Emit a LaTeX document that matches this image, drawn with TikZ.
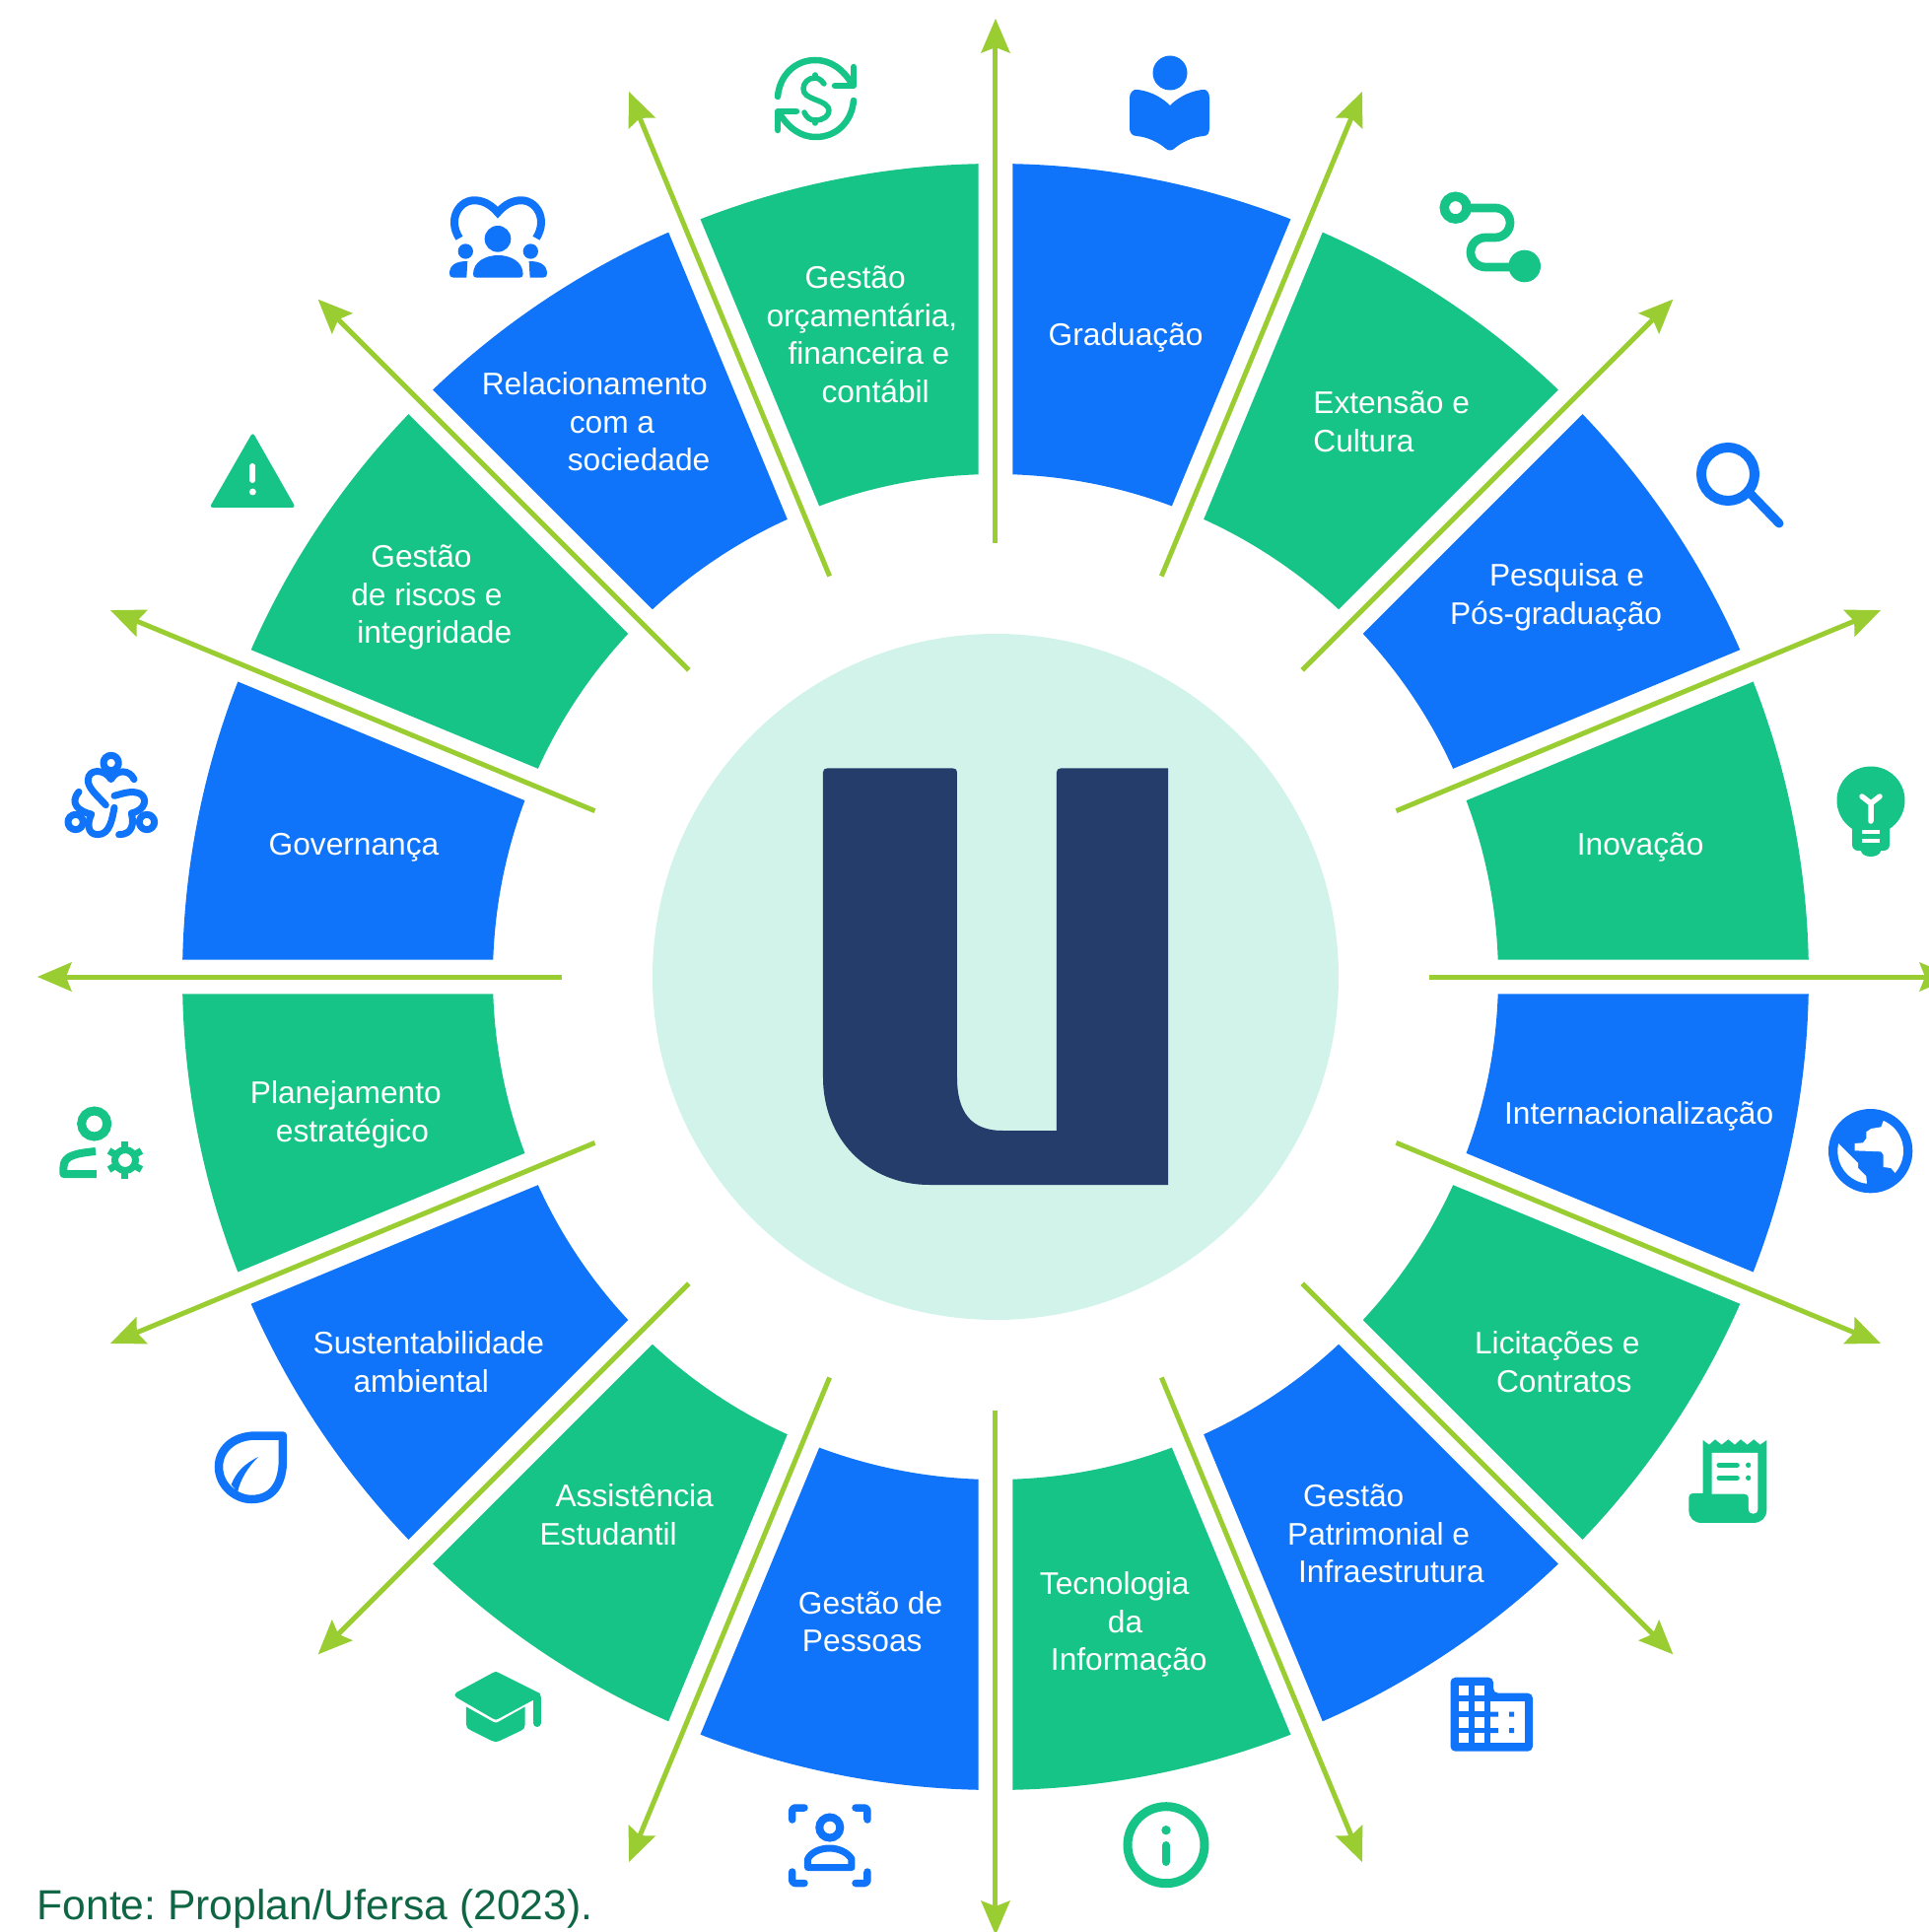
\documentclass[tikz,border=0pt]{standalone}
\usepackage{fontspec}
\setmainfont{Liberation Sans}
\usetikzlibrary{arrows.meta}
\definecolor{bl}{HTML}{1074FB}
\definecolor{gr}{HTML}{17C488}
\definecolor{ar}{HTML}{9ACD32}
\definecolor{hubc}{HTML}{D1F3E9}
\definecolor{nv}{HTML}{253D6B}
\definecolor{ft}{HTML}{0F6645}
\frenchspacing
\tikzset{
 img/.style={shift={(-1010,991)},yscale=-1},
 zm/.style n args={3}{shift={(#1,#2)},scale=#3},
 lab/.style={text=white,font=\fontsize{31.7}{38.5}\selectfont,align=left,anchor=west,inner sep=0pt},
 arrowline/.style={draw=ar,line width=5pt,-{Stealth[length=35pt,width=30pt,inset=6pt,line width=0pt]}},
 st/.style={line cap=round,line join=round,fill=none},
}
\newcommand\wedgeseg[2]{%
 \pgfmathsetmacro\aa{#1}\pgfmathsetmacro\bb{#1+22.5}%
 \fill[#2] (\aa+1.215:825) arc[start angle=\aa+1.215,end angle=\bb-1.215,radius=825] -- (\bb-1.966:510) arc[start angle=\bb-1.966,end angle=\aa+1.966,radius=510] -- cycle;}
\newcommand\lab[4]{\node[lab] (#1) at ({#2*1.2497-1010},{991-#3*1.2497}) {#4};}
\begin{document}
\begin{tikzpicture}[x=1pt,y=1pt]
\useasboundingbox (-1010,-969) rectangle (947,991);
\clip (-1010,-969) rectangle (947,991);
\node[circle,fill=hubc,inner sep=0pt,minimum size=696pt] (hub) at (0,0) {};
\foreach \i in {0,2,...,14} {\wedgeseg{\i*22.5}{gr}}
\foreach \i in {1,3,...,15} {\wedgeseg{\i*22.5}{bl}}
\foreach \i in {0,...,15} {
 \coordinate (s\i) at (\i*22.5:440);
 \coordinate (e\i) at (\i*22.5:972);
 \draw[arrowline] (s\i) -- (e\i);
}
% labels
\lab{orc}{622}{271.5}{\hspace*{39pt}Gestão\\orçamentária,\\\hspace*{22pt}financeira e\\\hspace*{56pt}contábil}
\lab{grad}{851}{274}{Graduação}
\lab{ext}{1066}{342.5}{Extensão e\\Cultura}
\lab{pesq}{1177}{485}{\hspace*{40pt}Pesquisa e\\Pós-graduação}
\lab{inov}{1280}{688}{Inovação}
\lab{inter}{1221}{906}{Internacionalização}
\lab{lic}{1197}{1105.5}{Licitações e\\\hspace*{22pt}Contratos}
\lab{patr}{1045}{1245}{\hspace*{16pt}Gestão\\Patrimonial e\\\hspace*{11pt}Infraestrutura}
\lab{tec}{844}{1319}{Tecnologia\\\hspace*{69pt}da\\\hspace*{11pt}Informação}
\lab{pess}{648}{1316.5}{Gestão de\\\hspace*{4pt}Pessoas}
\lab{assist}{438}{1229.5}{\hspace*{16pt}Assistência\\Estudantil}
\lab{sust}{254}{1105.5}{Sustentabilidade\\\hspace*{41pt}ambiental}
\lab{plan}{203}{905}{Planejamento\\\hspace*{26pt}estratégico}
\lab{gov}{218}{688}{Governança}
\lab{risc}{285}{485}{\hspace*{20pt}Gestão\\de riscos e\\\hspace*{6pt}integridade}
\lab{rel}{391}{342.5}{Relacionamento\\\hspace*{89pt}com a\\\hspace*{87pt}sociedade}
\node[anchor=west,inner sep=0pt,text=ft,font=\fontsize{42.6}{50}\selectfont] (fonte) at (-972.5,-945) {Fonte: Proplan/Ufersa (2023).};
% all remaining drawn in image pixels
\begin{scope}[img]
% U
\fill[nv] (835,783.5) .. controls (835,781) and (836.5,779.5) .. (839,779.5) -- (967,779.5) .. controls (969.5,779.5) and (971,781) .. (971,783.5) -- (971,1093) .. controls (971,1128) and (985,1147) .. (1017,1147) -- (1072,1147) -- (1072,783.5) .. controls (1072,781) and (1073.5,779.5) .. (1076,779.5) -- (1185,779.5) -- (1185,1202) -- (943,1202) .. controls (880,1202) and (835,1155) .. (835,1093) -- cycle;
% dollar
\begin{scope}[st,draw=gr,line width=6.5pt]
\draw (789,98) .. controls (791,76) and (807,61) .. (827,61) .. controls (843,61) and (855,70) .. (865,86);
\draw (866,68) -- (866,87) -- (847,87);
\draw (866,102) .. controls (864,124) and (848,139) .. (828,139) .. controls (812,139) and (800,130) .. (790,114);
\draw (789,132) -- (789,113) -- (808,113);
\draw[line width=5.5pt] (836,85) .. controls (833,81) and (830,79) .. (827,79) .. controls (820,79) and (815,84) .. (815,90) .. controls (815,96) and (820,98) .. (827,101) .. controls (835,104) and (841,107) .. (841,112) .. controls (841,118) and (835,122) .. (827,122) .. controls (822,122) and (818,119) .. (816,114);
\draw[line width=5.5pt] (827,76) -- (827,79) (827,122) -- (827,125);
\end{scope}
% book reader
\fill[bl] (1187,74) circle[radius=17.5];
\fill[bl] (1187,107) .. controls (1176,96) and (1163,92) .. (1154,91) .. controls (1150,90) and (1146,94) .. (1146,99) -- (1146,130) .. controls (1146,135) and (1149,138) .. (1153,138) .. controls (1164,139) and (1175,144) .. (1183,151) .. controls (1185,153) and (1189,153) .. (1191,151) .. controls (1199,144) and (1210,139) .. (1221,138) .. controls (1225,138) and (1227,135) .. (1227,130) -- (1227,99) .. controls (1227,94) and (1224,90) .. (1220,91) .. controls (1211,92) and (1198,96) .. (1187,107) -- cycle;
% route
\draw[gr,line width=8.7pt,rounded corners=15pt] (1477,211) -| (1532,241) -| (1492,271) -- (1547,271);
\draw[gr,line width=9.5pt,fill=white] (1476.7,210.7) circle[radius=11.4];
\fill[gr] (1546.7,270) circle[radius=16.3];
% magnifier
\draw[bl,line width=10pt] (1753,481) circle[radius=27];
\draw[bl,line width=9pt,line cap=round] (1775,500) -- (1805,531);
% bulb
\fill[gr] (1898,812) circle[radius=34.5];
\fill[gr,rounded corners=6pt] (1879,825) rectangle (1917,863);
\fill[gr] (1898,863) ellipse[x radius=10,y radius=6];
\draw[white,line width=5.5pt,line cap=round,line join=round] (1889,808) -- (1898,815) -- (1907,808) (1898,815) -- (1898,833);
\draw[white,line width=4pt] (1889,844) -- (1907,844) (1889,853) -- (1907,853);
% globe
\begin{scope}[zm={1840}{1110}{0.3333}]
\fill[bl] (173,173) circle[radius=128];
\begin{scope}
\clip (173,173) circle[radius=100];
\fill[white] (212,82) -- (205,100) -- (175,105) -- (160,115) -- (160,135) -- (150,148) -- (125,150) -- (125,172) -- (205,175) -- (212,185) -- (212,222) -- (235,225) -- (248,240) -- (300,240) -- (300,60) -- (212,60) -- cycle;
\fill[white] (75,150) -- (135,210) -- (135,225) -- (160,250) -- (162,272) -- (162,300) -- (40,300) -- (40,150) -- cycle;
\end{scope}
\end{scope}
% receipt
\begin{scope}[zm={1640}{1400}{0.3333}]
\fill[gr] (263,183) -- (282,197) -- (300,181) -- (320,197) -- (340,181) -- (360,197) -- (378,181) -- (398,197) -- (418,181) -- (437,197) -- (457,183) -- (457,395) .. controls (457,420) and (440,435) .. (415,435) -- (260,435) .. controls (235,435) and (220,420) .. (220,395) -- (220,360) .. controls (220,350) and (225,345) .. (235,345) -- (263,345) -- cycle;
\fill[white] (290,222) -- (430,222) -- (430,393) .. controls (430,412) and (402,412) .. (402,393) -- (402,360) .. controls (402,352) and (397,347) .. (390,347) -- (290,347) -- cycle;
\draw[gr,line width=5pt,line cap=round] (312,259) -- (367,259) (312,298) -- (367,298);
\fill[gr] (401,259) circle[radius=8] (401,298) circle[radius=8];
\end{scope}
% building
\fill[bl,rounded corners=5pt] (1471.5,1701.7) -- (1515,1701.7) -- (1515,1717.7) -- (1555,1717.7) -- (1555,1776.7) -- (1471.5,1776.7) -- cycle;
\foreach \cx in {1480,1496} \foreach \cy/\ch in {1710/10,1726/10,1742/10.7,1758/10} {\fill[white] (\cx,\cy) rectangle ++(9.5,\ch);}
\fill[white] (1511.7,1726) rectangle (1547,1768);
\fill[bl] (1511.7,1736.7) rectangle (1520,1741.7) (1511.7,1753) rectangle (1520,1758);
\fill[bl] (1531,1736.7) rectangle (1536,1741.7) (1531,1753) rectangle (1536,1758);
% info
\draw[gr,line width=9pt] (1183,1871.7) circle[radius=39];
\fill[gr] (1183,1856.7) circle[radius=4.7];
\draw[gr,line width=8pt,line cap=round] (1183,1872) -- (1183,1889);
% person scan
\begin{scope}[st,draw=bl,line width=7.5pt,rounded corners=3pt]
\draw (803.7,1846) -- (803.7,1834) -- (816,1834);
\draw (868,1834) -- (880,1834) -- (880,1846);
\draw (803.7,1899) -- (803.7,1910.5) -- (816,1910.5);
\draw (880,1899) -- (880,1910.5) -- (868,1910.5);
\end{scope}
\draw[bl,line width=8pt] (841.8,1854) circle[radius=10.5];
\draw[bl,line width=7pt,line join=round] (819.5,1894.5) -- (864,1894.5) -- (864,1886) .. controls (860,1879) and (850,1875) .. (841.8,1875) .. controls (832,1875) and (823,1879) .. (819.5,1886) -- cycle;
% grad cap
\fill[gr] (500,1697) .. controls (502,1695.5) and (504,1695.5) .. (506,1697) -- (546,1717) .. controls (549,1718) and (549,1721) .. (546,1722) -- (506,1743.5) .. controls (504,1745) and (502,1745) .. (500,1743.5) -- (463,1722) .. controls (461,1721) and (461,1718) .. (463,1717) -- cycle;
\fill[gr] (473,1731.5) -- (499,1746) .. controls (502,1748) and (504,1748) .. (507,1746) -- (532.6,1731.5) -- (532.6,1750) .. controls (532.6,1753) and (531,1755) .. (528,1756) -- (507,1766) .. controls (504,1767.5) and (502,1767.5) .. (499,1766) -- (477,1755) .. controls (474,1753) and (473,1752) .. (473,1749) -- cycle;
\draw[gr,line width=8pt,line cap=round] (544.7,1722) -- (544.7,1748);
% leaf
\draw[bl,line width=8.5pt,line join=round] (287,1456.5) -- (260,1456.5) .. controls (235,1456.5) and (222,1472) .. (222,1488) .. controls (222,1508) and (240,1521) .. (255,1521) .. controls (277,1521) and (287,1505) .. (287,1480) -- cycle;
\fill[bl] (262,1478) .. controls (248,1485) and (240,1493) .. (234.6,1506) -- (241,1514) .. controls (244,1500) and (252,1488) .. (262,1478) -- cycle;
% person gear
\draw[gr,line width=9pt] (95.7,1140) circle[radius=13];
\draw[gr,line width=8pt,line join=round] (97,1168) .. controls (78,1170) and (64.5,1172) .. (64.5,1184) -- (64.5,1191) -- (98,1191);
\draw[gr,line width=7pt] (127,1177) circle[radius=10.5];
\foreach \g in {30,90,...,330} {\draw[gr,line width=7pt] (127,1177) ++(\g:11) -- ++(\g:8);}
% warning
\fill[gr,rounded corners=3.5pt] (256.4,438.5) -- (300,515) -- (212.5,515) -- cycle;
\draw[white,line width=6pt,line cap=round] (256.4,473) -- (256.4,487);
\fill[white] (256.4,499) circle[radius=3.4];
% governance knot
\begin{scope}[zm={50}{750}{0.3333}]
\begin{scope}[st,draw=bl,line width=7pt]
\draw (188,72) circle[radius=23];
\draw (80,252) circle[radius=23];
\draw (297,252) circle[radius=23];
\draw (258,122) .. controls (245,92) and (205,90) .. (188,122) .. controls (170,90) and (118,88) .. (118,125) .. controls (118,150) and (150,175) .. (172,200);
\draw (198,172) .. controls (225,165) and (250,155) .. (275,165) .. controls (300,178) and (295,215) .. (250,225) .. controls (258,255) and (255,290) .. (212,290);
\draw (198,208) .. controls (192,240) and (185,290) .. (148,290) .. controls (115,290) and (115,255) .. (128,228) .. controls (90,220) and (60,195) .. (90,160);
\end{scope}
\end{scope}
% relationship
\begin{scope}[zm={440}{185}{0.3333}]
\draw[bl,line width=8pt] (78,170) .. controls (40,110) and (80,50) .. (130,55) .. controls (160,58) and (180,75) .. (195,92) .. controls (210,75) and (230,58) .. (260,55) .. controls (310,50) and (350,110) .. (312,170);
\fill[bl] (195,172) circle[radius=40] (97,210) circle[radius=23] (295,210) circle[radius=23];
\fill[bl] (120,280) .. controls (120,240) and (160,222) .. (196,222) .. controls (232,222) and (272,240) .. (272,280) .. controls (272,286) and (268,290) .. (262,290) -- (130,290) .. controls (124,290) and (120,286) .. (120,280) -- cycle;
\fill[bl] (103,240) .. controls (70,240) and (48,250) .. (48,278) .. controls (48,286) and (52,290) .. (60,290) -- (100,290) -- cycle;
\fill[bl] (290,240) .. controls (323,240) and (345,250) .. (345,278) .. controls (345,286) and (341,290) .. (333,290) -- (293,290) -- cycle;
\end{scope}
\end{scope}
\end{tikzpicture}
\end{document}
